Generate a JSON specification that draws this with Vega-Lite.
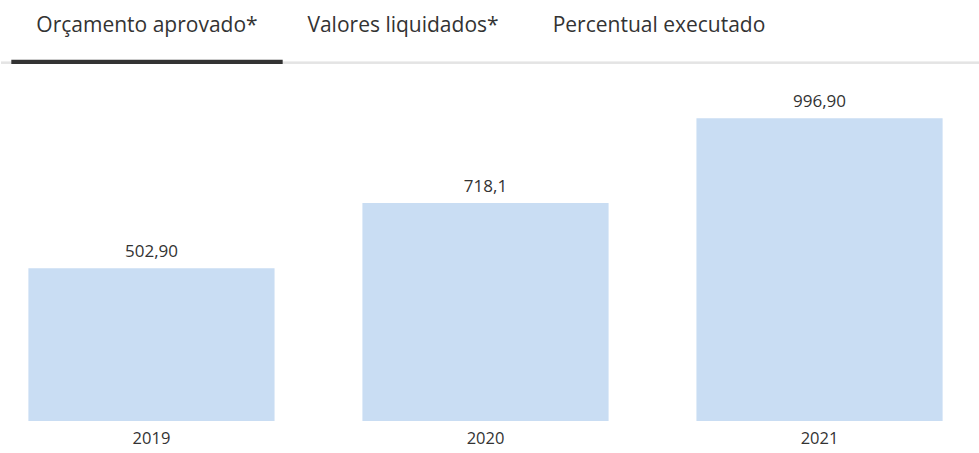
{
  "$schema": "https://vega.github.io/schema/vega-lite/v6.json",
  "padding": 0,
  "background": "white",
  "spacing": 0,
  "config": {"view": {"stroke": null}, "font": "Open Sans"},
  "datasets": {
    "tabs": [
      {"tab": "Orçamento aprovado*", "active": true},
      {"tab": "Valores liquidados*", "active": false},
      {"tab": "Percentual executado", "active": false}
    ],
    "bars": [
      {"ano": "2019", "valor": 502.9, "rotulo": "502,90"},
      {"ano": "2020", "valor": 718.1, "rotulo": "718,1"},
      {"ano": "2021", "valor": 996.9, "rotulo": "996,90"}
    ]
  },
  "vconcat": [
    {
      "width": 979,
      "height": 64,
      "data": {"name": "tabs"},
      "layer": [
        {
          "mark": {"type": "rule", "color": "#e4e4e4", "strokeWidth": 2},
          "encoding": {
            "y": {"datum": 0.98, "type": "quantitative", "scale": {"domain": [0, 1], "reverse": true}, "axis": null}
          }
        },
        {
          "transform": [{"filter": "datum.active"}],
          "mark": {"type": "bar", "color": "#333333", "width": {"band": 1.06}},
          "encoding": {
            "x": {"field": "tab", "type": "nominal", "sort": null, "scale": {"range": [18, 786], "paddingInner": 0, "paddingOuter": 0}, "axis": null},
            "y": {"datum": 0.935, "type": "quantitative"},
            "y2": {"datum": 1.0}
          }
        },
        {
          "mark": {"type": "text", "fontSize": 21, "color": "#333333", "baseline": "middle", "align": "center"},
          "encoding": {
            "x": {"field": "tab", "type": "nominal", "sort": null},
            "y": {"datum": 0.41, "type": "quantitative"},
            "text": {"field": "tab"}
          }
        }
      ]
    },
    {
      "width": 969,
      "height": 357,
      "data": {"name": "bars"},
      "encoding": {
        "x": {
          "field": "ano", "type": "nominal", "sort": null, "title": null,
          "scale": {"paddingInner": 0.263, "paddingOuter": 0.082},
          "axis": {"domain": false, "ticks": false, "labelAngle": 0, "labelFontSize": 16.5, "labelColor": "#333333", "labelPadding": 9, "labelFont": "Open Sans"}
        },
        "y": {"field": "valor", "type": "quantitative", "scale": {"domain": [0, 1176], "nice": false}, "axis": null}
      },
      "layer": [
        {"mark": {"type": "bar", "color": "#c9ddf3"}},
        {
          "mark": {"type": "text", "baseline": "bottom", "dy": -7, "fontSize": 17, "color": "#333333"},
          "encoding": {"text": {"field": "rotulo"}}
        }
      ]
    }
  ]
}
